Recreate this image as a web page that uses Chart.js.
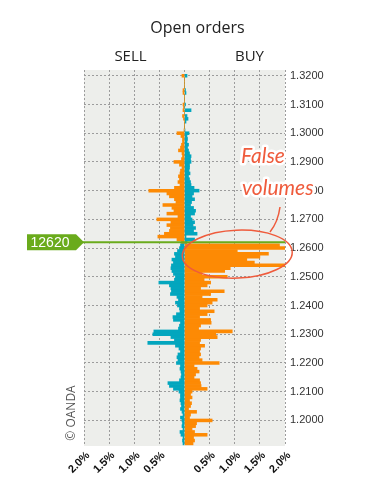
<!DOCTYPE html>
<html>
<head>
<meta charset="utf-8">
<script src="https://cdn.jsdelivr.net/npm/chart.js@4.4.0/dist/chart.umd.min.js"></script>
<style>
	html, body { margin: 0; padding: 0; background: #fff; }
	#ordersChart { display: block; }
</style>
</head>
<body>
<canvas id="ordersChart" width="377" height="499"></canvas>
<script>
// price buckets, top to bottom
var price = [
	1.320, 1.319, 1.318, 1.317, 1.316, 1.315, 1.314, 1.313, 1.312, 1.311,
	1.310, 1.309, 1.308, 1.307, 1.306, 1.305, 1.304, 1.303, 1.302, 1.301,
	1.300, 1.299, 1.298, 1.297, 1.296, 1.295, 1.294, 1.293, 1.292, 1.291,
	1.290, 1.289, 1.288, 1.287, 1.286, 1.285, 1.284, 1.283, 1.282, 1.281,
	1.280, 1.279, 1.278, 1.277, 1.276, 1.275, 1.274, 1.273, 1.272, 1.271,
	1.270, 1.269, 1.268, 1.267, 1.266, 1.265, 1.264, 1.263, 1.262, 1.261,
	1.260, 1.259, 1.258, 1.257, 1.256, 1.255, 1.254, 1.253, 1.252, 1.251,
	1.250, 1.249, 1.248, 1.247, 1.246, 1.245, 1.244, 1.243, 1.242, 1.241,
	1.240, 1.239, 1.238, 1.237, 1.236, 1.235, 1.234, 1.233, 1.232, 1.231,
	1.230, 1.229, 1.228, 1.227, 1.226, 1.225, 1.224, 1.223, 1.222, 1.221,
	1.220, 1.219, 1.218, 1.217, 1.216, 1.215, 1.214, 1.213, 1.212, 1.211,
	1.210, 1.209, 1.208, 1.207, 1.206, 1.205, 1.204, 1.203, 1.202, 1.201,
	1.200, 1.199, 1.198, 1.197, 1.196, 1.195, 1.194, 1.193, 1.192
];

// % of open orders drawn left of centre (SELL side)
var leftSide = [
	-0.05, 0, 0, 0, 0, -0.03, -0.03, 0, 0, 0,
	-0.03, -0.02, -0.03, 0, -0.04, -0.02, 0, 0, 0, -0.01,
	-0.15, -0.07, -0.04, -0.04, -0.06, -0.08, -0.12, -0.05, -0.04, -0.06,
	-0.21, -0.10, -0.05, -0.08, -0.09, -0.12, -0.10, -0.13, -0.09, -0.20,
	-0.71, -0.35, -0.30, -0.20, -0.17, -0.43, -0.25, -0.21, -0.35, -0.13,
	-0.55, -0.27, -0.35, -0.28, -0.30, -0.40, -0.53, -0.15, -0.06, -0.08,
	-0.10, -0.14, -0.20, -0.18, -0.25, -0.22, -0.26, -0.27, -0.25, -0.22,
	-0.18, -0.20, -0.51, -0.30, -0.27, -0.26, -0.28, -0.15, -0.12, -0.18,
	-0.14, -0.10, -0.09, -0.16, -0.23, -0.22, -0.08, -0.10, -0.12, -0.61,
	-0.63, -0.27, -0.20, -0.73, -0.18, -0.11, -0.08, -0.13, -0.15, -0.13,
	-0.16, -0.08, -0.09, -0.07, -0.06, -0.07, -0.10, -0.33, -0.30, -0.22,
	-0.11, -0.08, -0.08, -0.09, -0.07, -0.06, -0.08, -0.05, -0.03, -0.08,
	-0.05, -0.04, -0.05, -0.03, -0.09, -0.07, -0.03, -0.04, -0.03
];

// % of open orders drawn right of centre (BUY side)
var rightSide = [
	0.05, 0, 0, 0, 0, 0.02, 0.03, 0, 0, 0,
	0.02, 0, 0.13, 0, 0.05, 0.07, 0.03, 0, 0, 0.01,
	0.09, 0.05, 0.06, 0.05, 0.08, 0.06, 0.08, 0.10, 0.13, 0.12,
	0.13, 0.10, 0.10, 0.09, 0.11, 0.08, 0.10, 0.12, 0.13, 0.19,
	0.29, 0.18, 0.15, 0.20, 0.14, 0.12, 0.18, 0.22, 0.20, 0.12,
	0.15, 0.20, 0.17, 0.22, 0.18, 0.25, 0.03, 0.20, 0.05, 1.89,
	2.02, 1.05, 1.67, 1.50, 1.24, 1.39, 2.02, 0.91, 0.80, 0.35,
	0.85, 0.39, 0.52, 0.45, 0.32, 0.79, 0.52, 0.35, 0.65, 0.55,
	0.45, 0.30, 0.59, 0.45, 0.30, 0.52, 0.53, 0.32, 0.28, 0.95,
	0.62, 0.65, 0.32, 0.30, 0.40, 0.32, 0.30, 0.32, 0.29, 0.35,
	0.69, 0.19, 0.25, 0.29, 0.22, 0.19, 0.30, 0.32, 0.33, 0.45,
	0.15, 0.12, 0.15, 0.10, 0.14, 0.12, 0.08, 0.24, 0.12, 0.10,
	0.55, 0.24, 0.22, 0.15, 0.20, 0.45, 0.18, 0.20, 0.17
];

var currentPrice = 1.262;
var currentLabel = '12620';

var xTickValues = [-2, -1.5, -1, -0.5, 0, 0.5, 1, 1.5, 2];
var xTickLabels = ['2.0%', '1.5%', '1.0%', '0.5%', '', '0.5%', '1.0%', '1.5%', '2.0%'];
var yTickValues = [1.32, 1.31, 1.30, 1.29, 1.28, 1.27, 1.26, 1.25, 1.24, 1.23, 1.22, 1.21, 1.20];

var ORANGE = '#fd8a04';
var TEAL = '#03a6be';
var GREEN = '#6aab1c';
var RED = '#ef5b3c';

function points(vals) {
	var out = [];
	for (var i = 0; i < price.length; i++) {
		out.push({ x: vals[i], y: price[i] });
	}
	return out;
}

// colours swap sides at the current price
function leftColor(c) {
	return c.raw && c.raw.y >= currentPrice ? ORANGE : TEAL;
}
function rightColor(c) {
	return c.raw && c.raw.y >= currentPrice ? TEAL : ORANGE;
}

var decor = {
	id: 'decor',
	beforeDraw: function(chart) {
		var ctx = chart.ctx;
		var a = chart.chartArea;
		ctx.save();
		ctx.fillStyle = '#ffffff';
		ctx.fillRect(0, 0, chart.width, chart.height);
		ctx.fillStyle = '#edeeeb';
		ctx.fillRect(a.left, a.top, a.right - a.left, a.bottom - a.top);
		ctx.restore();
	},
	afterDraw: function(chart) {
		var ctx = chart.ctx;
		var a = chart.chartArea;
		var xs = chart.scales.x;
		var ys = chart.scales.y;
		var mid = xs.getPixelForValue(0);
		ctx.save();

		// headings
		ctx.fillStyle = '#222';
		ctx.textAlign = 'center';
		ctx.textBaseline = 'middle';
		ctx.font = '16px "Open Sans"';
		ctx.fillText('Open orders', mid + 13, 28);
		ctx.font = '15px "Open Sans"';
		ctx.fillText('SELL', mid - 54, 57);
		ctx.fillText('BUY', mid + 65, 57);

		// current price line and tag
		var py = ys.getPixelForValue(currentPrice);
		ctx.strokeStyle = GREEN;
		ctx.lineWidth = 2;
		ctx.beginPath();
		ctx.moveTo(a.left - 2, py);
		ctx.lineTo(a.right, py);
		ctx.stroke();

		ctx.fillStyle = GREEN;
		ctx.beginPath();
		ctx.moveTo(a.left - 57, py - 8);
		ctx.lineTo(a.left - 8, py - 8);
		ctx.lineTo(a.left, py);
		ctx.lineTo(a.left - 8, py + 8);
		ctx.lineTo(a.left - 57, py + 8);
		ctx.closePath();
		ctx.fill();
		ctx.fillStyle = '#fff';
		ctx.font = '14px "Liberation Sans"';
		ctx.fillText(currentLabel, a.left - 34, py + 1);

		// ellipse round the false volumes
		var ex = xs.getPixelForValue(1.05);
		var ey = ys.getPixelForValue(1.2579);
		ctx.strokeStyle = RED;
		ctx.lineWidth = 1.5;
		ctx.beginPath();
		ctx.ellipse(ex, ey, 55, 24, -0.04, 0, Math.PI * 2);
		ctx.stroke();

		// pointer
		ctx.beginPath();
		ctx.moveTo(280, 207);
		ctx.quadraticCurveTo(278, 222, 270, 232);
		ctx.stroke();

		// handwritten note
		ctx.font = 'italic 21px Lato';
		ctx.textAlign = 'left';
		ctx.textBaseline = 'alphabetic';
		ctx.lineJoin = 'round';
		ctx.strokeStyle = '#fff';
		ctx.lineWidth = 5;
		ctx.strokeText('False', 241, 163);
		ctx.strokeText('volumes', 242, 195);
		ctx.fillStyle = RED;
		ctx.fillText('False', 241, 163);
		ctx.fillText('volumes', 242, 195);

		// copyright
		ctx.translate(72, 413);
		ctx.rotate(-Math.PI / 2);
		ctx.textAlign = 'center';
		ctx.textBaseline = 'middle';
		ctx.fillStyle = '#555';
		ctx.font = '12px "Open Sans"';
		ctx.fillText('\u00A9 OANDA', 0, 0);

		ctx.restore();
	}
};

var ctx = document.getElementById('ordersChart').getContext('2d');
var ordersChart = new Chart(ctx, {
	type: 'bar',
	data: {
		datasets: [
			{
				label: 'Left',
				data: points(leftSide),
				backgroundColor: leftColor,
				borderWidth: 0,
				grouped: false,
				barPercentage: 1,
				categoryPercentage: 1
			},
			{
				label: 'Right',
				data: points(rightSide),
				backgroundColor: rightColor,
				borderWidth: 0,
				grouped: false,
				barPercentage: 1,
				categoryPercentage: 1
			}
		]
	},
	options: {
		indexAxis: 'y',
		responsive: false,
		animation: false,
		layout: {
			padding: { left: 84, top: 70, right: 0, bottom: 13 }
		},
		scales: {
			x: {
				type: 'linear',
				min: -2,
				max: 2,
				afterBuildTicks: function(s) {
					s.ticks = xTickValues.map(function(v) { return { value: v }; });
				},
				afterFit: function(s) {
					s.height = 40;
				},
				grid: { color: '#9c9c9c', drawTicks: false },
				border: { display: false, dash: [2, 2] },
				ticks: {
					autoSkip: false,
					minRotation: 45,
					maxRotation: 45,
					padding: 3,
					labelOffset: 4,
					color: '#111',
					font: { family: 'Liberation Sans', size: 11, weight: 'bold' },
					callback: function(v, i) {
						return xTickLabels[i];
					}
				}
			},
			y: {
				type: 'linear',
				position: 'right',
				offset: false,
				min: 1.1911,
				max: 1.322,
				afterBuildTicks: function(s) {
					s.ticks = yTickValues.map(function(v) { return { value: v }; });
				},
				afterFit: function(s) {
					s.width = 92;
				},
				grid: { color: '#9c9c9c', drawTicks: false, offset: false },
				border: { display: false, dash: [2, 2] },
				ticks: {
					padding: 5,
					color: '#333',
					font: { family: 'Liberation Sans', size: 11 },
					callback: function(v) {
						return v.toFixed(4);
					}
				}
			}
		},
		plugins: {
			legend: { display: false },
			tooltip: { enabled: false },
			title: { display: false }
		}
	},
	plugins: [decor]
});
</script>
</body>
</html>
